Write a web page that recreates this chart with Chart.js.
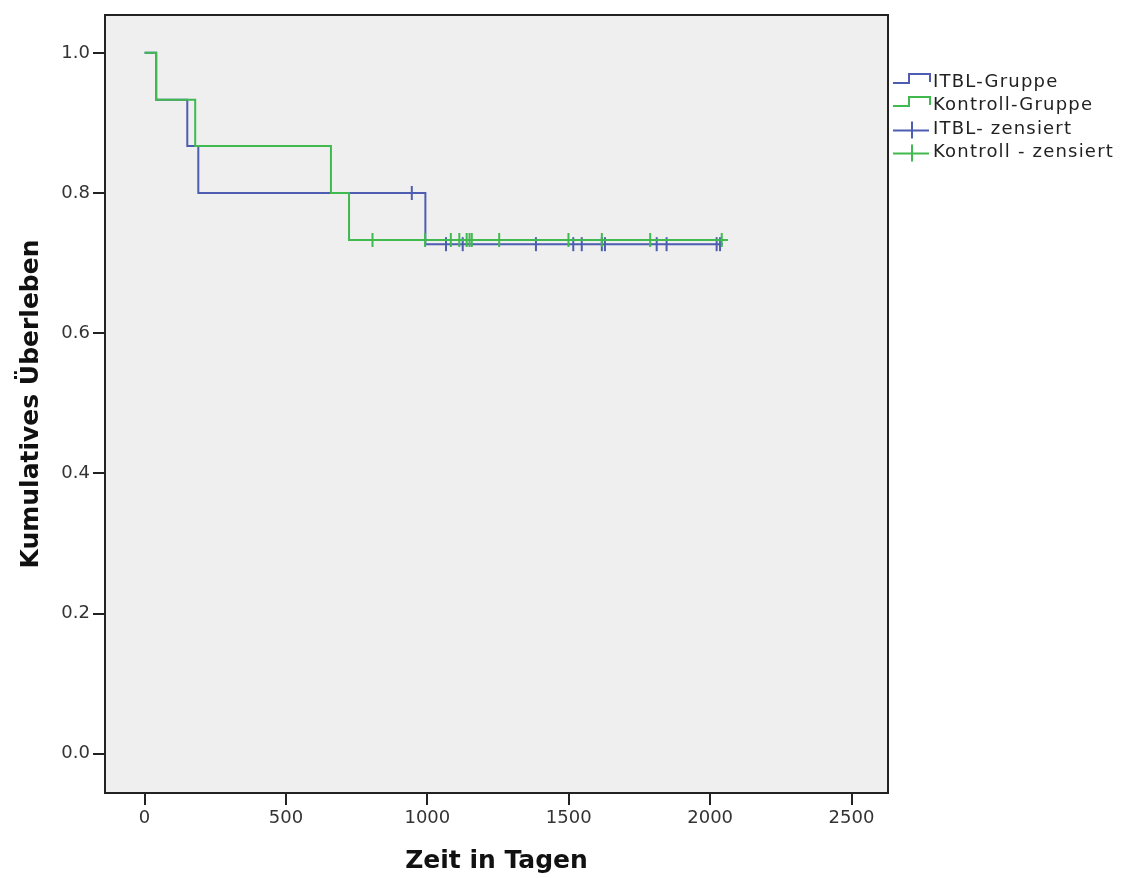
<!DOCTYPE html>
<html>
<head>
<meta charset="utf-8">
<title>Kumulatives Überleben</title>
<script src="https://cdn.jsdelivr.net/npm/chart.js@4/dist/chart.umd.min.js"></script>
<style>
  html, body { margin: 0; padding: 0; background: #fff; }
  #wrap { width: 1123px; height: 878px; position: relative; }
</style>
</head>
<body>
<div id="wrap"><canvas id="survivalChart"></canvas></div>
<script>
"use strict"

// Kaplan-Meier steps
const itblTimes = [0, 41, 151, 190, 993, 2045]
const itblSurvival = [1.0, 0.933, 0.867, 0.8, 0.727, 0.727]
const kontrollTimes = [0, 41, 179, 659, 723, 2063]
const kontrollSurvival = [1.0, 0.933, 0.867, 0.8, 0.733, 0.733]

// censored cases
const itblCensoredTimes = [945, 1066, 1125, 1384, 1516, 1546, 1617, 1628, 1811, 1846, 2023, 2035]
const itblCensoredSurvival = [0.8, 0.727, 0.727, 0.727, 0.727, 0.727, 0.727, 0.727, 0.727, 0.727, 0.727, 0.727]
const kontrollCensoredTimes = [806, 992, 1083, 1113, 1139, 1149, 1157, 1254, 1499, 1617, 1788, 2041]
const kontrollCensoredSurvival = [0.733, 0.733, 0.733, 0.733, 0.733, 0.733, 0.733, 0.733, 0.733, 0.733, 0.733, 0.733]

const xTicks = [0, 500, 1000, 1500, 2000, 2500]
const yTicks = [0, 0.2, 0.4, 0.6, 0.8, 1.0]
const legendLabels = ['ITBL-Gruppe', 'Kontroll-Gruppe', 'ITBL- zensiert', 'Kontroll - zensiert']

;(function() {

    const colors = {
        itbl: '#4c5db2',
        kontroll: '#40b94e',
        frame: '#222',
        panel: '#efefef',
        text: '#222'
    }

    const toPoints = (xs, ys) => xs.map((x, i) => ({ x: x, y: ys[i] }))

    // grey panel behind the plot, black frame round it
    const panelPlugin = {
        id: 'panel',
        beforeDraw: chart => {
            const { ctx, chartArea: a } = chart
            ctx.save()
            ctx.fillStyle = '#fff'
            ctx.fillRect(0, 0, chart.width, chart.height)
            ctx.fillStyle = colors.panel
            ctx.fillRect(a.left, a.top, a.right - a.left, a.bottom - a.top)
            ctx.restore()
        },
        afterDraw: chart => {
            const { ctx, chartArea: a } = chart
            ctx.save()
            ctx.strokeStyle = colors.frame
            ctx.lineWidth = 2
            ctx.strokeRect(a.left, a.top, a.right - a.left, a.bottom - a.top)
            ctx.restore()
        }
    }

    // SPSS style legend: step icons and cross icons
    const legendPlugin = {
        id: 'kmLegend',
        afterDraw: chart => {
            const ctx = chart.ctx
            const x0 = chart.chartArea.right + 5
            const rowBase = [87, 110, 133.5, 156.5]
            const iconColors = [colors.itbl, colors.kontroll, colors.itbl, colors.kontroll]
            ctx.save()
            ctx.lineWidth = 2
            legendLabels.forEach((label, i) => {
                const b = rowBase[i]
                ctx.strokeStyle = iconColors[i]
                ctx.beginPath()
                if (i < 2) {
                    ctx.moveTo(x0, b - 4)
                    ctx.lineTo(x0 + 16, b - 4)
                    ctx.lineTo(x0 + 16, b - 13)
                    ctx.lineTo(x0 + 37, b - 13)
                    ctx.lineTo(x0 + 37, b - 5)
                } else {
                    ctx.moveTo(x0, b - 3)
                    ctx.lineTo(x0 + 36, b - 3)
                    ctx.moveTo(x0 + 19, b - 12)
                    ctx.lineTo(x0 + 19, b + 5)
                }
                ctx.stroke()
                ctx.fillStyle = colors.text
                ctx.font = '18px "DejaVu Sans"'
                if ('letterSpacing' in ctx) ctx.letterSpacing = '1.2px'
                ctx.textBaseline = 'alphabetic'
                ctx.textAlign = 'left'
                ctx.fillText(label, x0 + 40, b)
            })
            ctx.restore()
        }
    }

    const lineSet = (label, pts, color, order) => ({
        type: 'line',
        label: label,
        data: pts,
        borderColor: color,
        borderWidth: 2,
        stepped: 'before',
        pointRadius: 0,
        fill: false,
        order: order
    })

    const censorSet = (label, pts, color, order) => ({
        type: 'scatter',
        label: label,
        data: pts,
        borderColor: color,
        backgroundColor: color,
        pointStyle: 'line',
        rotation: 90,
        pointRadius: 7,
        pointBorderWidth: 2,
        order: order
    })

    const tickFont = { family: 'DejaVu Sans', size: 18 }

    new Chart(document.getElementById('survivalChart'), {
        data: {
            datasets: [
                lineSet(legendLabels[0], toPoints(itblTimes, itblSurvival), colors.itbl, 3),
                censorSet(legendLabels[2], toPoints(itblCensoredTimes, itblCensoredSurvival), colors.itbl, 2),
                lineSet(legendLabels[1], toPoints(kontrollTimes, kontrollSurvival), colors.kontroll, 1),
                censorSet(legendLabels[3], toPoints(kontrollCensoredTimes, kontrollCensoredSurvival), colors.kontroll, 0)
            ]
        },
        options: {
            responsive: true,
            maintainAspectRatio: false,
            animation: false,
            layout: { padding: { top: 15, right: 235, left: 0, bottom: 0 } },
            plugins: {
                legend: { display: false },
                tooltip: { enabled: false }
            },
            scales: {
                x: {
                    type: 'linear',
                    min: -140,
                    max: 2629,
                    afterBuildTicks: s => { s.ticks = xTicks.map(v => ({ value: v })) },
                    afterFit: s => { s.height = 85 },
                    grid: { drawOnChartArea: false, drawTicks: true, tickLength: 12, color: colors.frame, lineWidth: 2 },
                    border: { display: false },
                    ticks: { font: tickFont, color: '#333', padding: 3, maxRotation: 0, callback: v => String(v) },
                    title: {
                        display: true,
                        text: 'Zeit in Tagen',
                        color: '#111',
                        font: { family: 'DejaVu Sans', size: 25, weight: 'bold' },
                        padding: { top: 0, bottom: 2 }
                    }
                },
                y: {
                    type: 'linear',
                    min: -0.056,
                    max: 1.054,
                    afterBuildTicks: s => { s.ticks = yTicks.map(v => ({ value: v })) },
                    afterFit: s => { s.width = 105 },
                    grid: { drawOnChartArea: false, drawTicks: true, tickLength: 12, color: colors.frame, lineWidth: 2 },
                    border: { display: false },
                    ticks: { font: tickFont, color: '#333', padding: 3, callback: v => v.toFixed(1) },
                    title: {
                        display: true,
                        text: 'Kumulatives Überleben',
                        color: '#111',
                        font: { family: 'DejaVu Sans', size: 25, weight: 'bold' },
                        padding: { top: 16, bottom: 0 }
                    }
                }
            }
        },
        plugins: [panelPlugin, legendPlugin]
    })

})()
</script>
</body>
</html>
